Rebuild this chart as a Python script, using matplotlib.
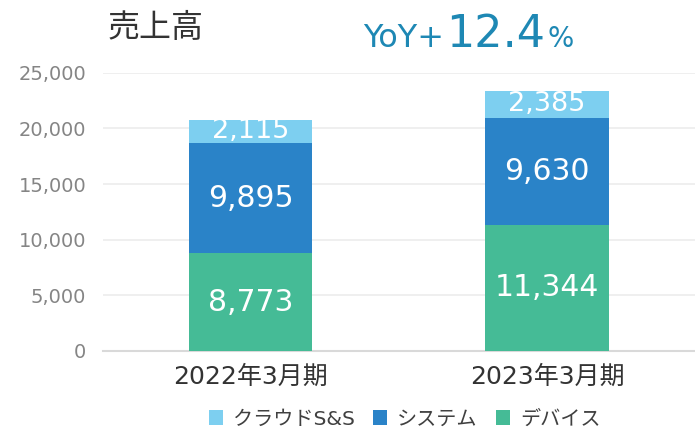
import numpy as np
import matplotlib.pyplot as plt

plt.rcParams['font.family'] = ['DejaVu Sans', 'Noto Sans CJK JP']

periods = ["2022年3月期", "2023年3月期"]
device = [8773, 11344]
system = [9895, 9630]
cloud = [2115, 2385]
series = [("デバイス", device, "#45BB96"),
          ("システム", system, "#2A83C8"),
          ("クラウドS&S", cloud, "#7DCFF0")]
yticks = [0, 5000, 10000, 15000, 20000, 25000]

fig = plt.figure(figsize=(6.95, 4.32), dpi=100)
ax = fig.add_axes([0.148, 0.1875, 0.852, 0.644])

x = np.arange(len(periods))
bottom = np.zeros(len(periods))
handles = {}
for name, vals, color in series:
    vals = np.array(vals, dtype=float)
    bars = ax.bar(x, vals, width=0.416, bottom=bottom, color=color, zorder=3)
    handles[name] = bars
    for xi, b, v in zip(x, bottom, vals):
        fs = 19.5 if name == "クラウドS&S" else 21.5
        ax.text(xi, b + v / 2, f"{int(v):,}", ha="center", va="center",
                color="white", fontsize=fs, zorder=4)
    bottom += vals

ax.set_xlim(-0.5, 1.5)
ax.set_ylim(0, 25000)
ax.set_yticks(yticks)
ax.set_yticklabels([f"{t:,}" for t in yticks], fontsize=14, color="#858585")
ax.set_xticks(x)
ax.set_xticklabels(periods, fontsize=18, color="#333333")
ax.tick_params(axis="y", length=0, pad=12)
ax.tick_params(axis="x", length=0, pad=10)
ax.grid(axis="y", color="#ececec", linewidth=1.2, zorder=0)
for s in ["top", "right", "left"]:
    ax.spines[s].set_visible(False)
ax.spines["bottom"].set_color("#d9d9d9")
ax.spines["bottom"].set_linewidth(1.5)

order = ["クラウドS&S", "システム", "デバイス"]
leg = fig.legend([handles[n] for n in order], order, loc="center",
                 bbox_to_anchor=(0.582, 0.03), ncol=3, frameon=False,
                 fontsize=14.5, handlelength=0.7, handleheight=0.7,
                 handletextpad=0.5, columnspacing=0.9)
for t in leg.get_texts():
    t.set_color("#404040")

fig.text(0.155, 0.935, "売上高", fontsize=23, color="#333333", va="center")

# YoY headline: three pieces sharing one baseline
yoy_color = "#1E88B4"
base_y = 0.892
t1 = fig.text(0.522, base_y, "YoY+", fontsize=23, color=yoy_color, va="baseline")
fig.canvas.draw()
r = fig.canvas.get_renderer()
x1 = fig.transFigure.inverted().transform(t1.get_window_extent(r))[1, 0]
t2 = fig.text(x1 + 0.003, base_y, "12.4", fontsize=32, color=yoy_color, va="baseline")
fig.canvas.draw()
x2 = fig.transFigure.inverted().transform(t2.get_window_extent(r))[1, 0]
fig.text(x2 + 0.004, base_y, "%", fontsize=20, color=yoy_color, va="baseline")

fig.savefig("out.png", dpi=100)
